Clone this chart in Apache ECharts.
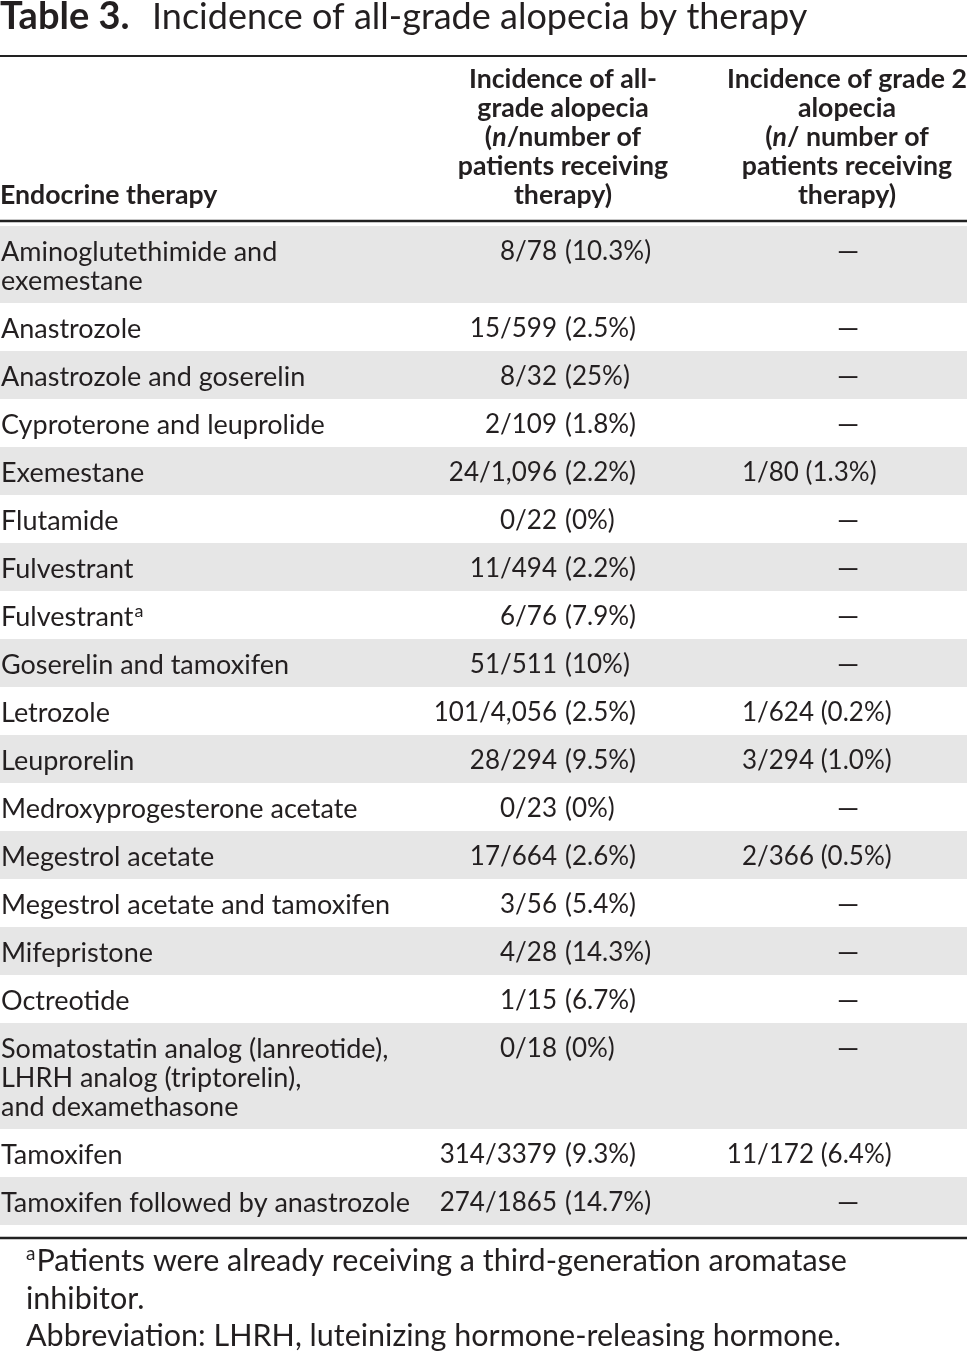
<!DOCTYPE html>
<html><head><meta charset="utf-8">
<script src="https://cdn.jsdelivr.net/npm/echarts@6/dist/echarts.min.js"></script>
<style>html,body{margin:0;padding:0;background:#fff}#c{width:967px;height:1353px}</style>
</head><body><div id="c"></div>
<script>
// ---- data ----
const therapies = [
  'Aminoglutethimide and\nexemestane',
  'Anastrozole',
  'Anastrozole and goserelin',
  'Cyproterone and leuprolide',
  'Exemestane',
  'Flutamide',
  'Fulvestrant',
  'Fulvestrant',
  'Goserelin and tamoxifen',
  'Letrozole',
  'Leuprorelin',
  'Medroxyprogesterone acetate',
  'Megestrol acetate',
  'Megestrol acetate and tamoxifen',
  'Mifepristone',
  'Octreotide',
  'Somatostatin analog (lanreotide),\nLHRH analog (triptorelin),\nand dexamethasone',
  'Tamoxifen',
  'Tamoxifen followed by anastrozole'
];
const noteMarks = ['', '', '', '', '', '', '', 'a', '', '', '', '', '', '', '', '', '', '', ''];
const allGradeN = ['8/78', '15/599', '8/32', '2/109', '24/1,096', '0/22', '11/494', '6/76', '51/511',
  '101/4,056', '28/294', '0/23', '17/664', '3/56', '4/28', '1/15', '0/18', '314/3379', '274/1865'];
const allGradePct = ['10.3%', '2.5%', '25%', '1.8%', '2.2%', '0%', '2.2%', '7.9%', '10%',
  '2.5%', '9.5%', '0%', '2.6%', '5.4%', '14.3%', '6.7%', '0%', '9.3%', '14.7%'];
const grade2N = ['', '', '', '', '1/80', '', '', '', '', '1/624', '3/294', '', '2/366', '', '', '', '', '11/172', ''];
const grade2Pct = ['', '', '', '', '1.3%', '', '', '', '', '0.2%', '1.0%', '', '0.5%', '', '', '', '', '6.4%', ''];
const titleLabel = 'Table 3.';
const titleText = 'Incidence of all-grade alopecia by therapy';
const headerCol1 = 'Endocrine therapy';
const headerCol2 = ['Incidence of all-', 'grade alopecia', '({i|n}/number of', 'patients receiving', 'therapy)'];
const headerCol3 = ['Incidence of grade 2', 'alopecia', '({i|n}/ number of', 'patients receiving', 'therapy)'];
const footnotes = ['{sup|a}Patients were already receiving a third-generation aromatase', 'inhibitor.',
  'Abbreviation: LHRH, luteinizing hormone-releasing hormone.'];
const emptyMark = '\u2014';

// ---- style / layout ----
const W = 967, H = 1353;
const FONT = 'Lato';
const INK = '#231f20';
const SHADE = '#e6e6e6';
const LABEL_FS = 27, NUM_FS = 26, HEAD_FS = 26.7, TITLE_FS = 36, TITLE_B_FS = 38, FOOT_FS = 30.5;
const LINE = 29, PITCH = 48, FIRST = 252;
const C2_SPLIT = 557, C3_SLASH = 757, C3_DASH = 848, PCT_GAP = 8;
const C2_HEAD = 563, C3_HEAD = 847;

const layout = [];
let y = FIRST;
therapies.forEach((t) => {
  const n = t.split('\n').length;
  layout.push({ first: y, last: y + (n - 1) * LINE });
  y += (n - 1) * LINE + PITCH;
});

const chart = echarts.init(document.getElementById('c'), null, { renderer: 'canvas' });

function txt(x, yy, text, opts) {
  return Object.assign({ type: 'text', x: x, y: yy,
    style: Object.assign({ text: text, fill: INK, fontFamily: FONT, fontSize: NUM_FS, align: 'left', verticalAlign: 'middle' }, opts || {}) });
}

function renderRow(params, api) {
  const i = params.dataIndex;
  const L = layout[i];
  const tl = api.coord([0, L.first - 26]);
  const br = api.coord([W, L.last + 22]);
  const p1 = api.coord([1, L.first]);
  const children = [];
  if (i % 2 === 0) {
    children.push({ type: 'rect', shape: { x: tl[0], y: tl[1], width: br[0] - tl[0], height: br[1] - tl[1] }, style: { fill: SHADE } });
  }
  const label = therapies[i] + (noteMarks[i] ? '{sup|' + noteMarks[i] + '}' : '');
  children.push({ type: 'text', x: p1[0], y: p1[1] - LINE / 2,
    style: { text: label, fill: INK, fontFamily: FONT, fontSize: LABEL_FS, lineHeight: LINE, align: 'left', verticalAlign: 'top',
      rich: { sup: { fontSize: 18, fontFamily: FONT, fill: INK, verticalAlign: 'top', lineHeight: LINE, padding: [0, 0, 12, 1] } } } });
  const c2 = api.coord([C2_SPLIT, L.first]);
  children.push(txt(c2[0], c2[1], allGradeN[i], { align: 'right' }));
  children.push(txt(c2[0] + PCT_GAP, c2[1], '(' + allGradePct[i] + ')', { align: 'left' }));
  if (grade2N[i]) {
    const parts = grade2N[i].split('/');
    const c3 = api.coord([C3_SLASH, L.first]);
    children.push(txt(c3[0], c3[1], parts[0], { align: 'right' }));
    children.push(txt(c3[0], c3[1], '/' + parts[1] + ' (' + grade2Pct[i] + ')', { align: 'left' }));
  } else {
    const c3 = api.coord([C3_DASH, L.first]);
    children.push(txt(c3[0], c3[1], emptyMark, { align: 'center', fontSize: 28 }));
  }
  return { type: 'group', children: children };
}

const headerLines = headerCol2.length;
const HEAD_LAST = 195;
const graphics = [];
graphics.push({ type: 'text', x: 0, y: 17,
  style: { text: titleLabel, fill: INK, fontFamily: FONT, fontSize: TITLE_B_FS, fontWeight: 'bold', align: 'left', verticalAlign: 'middle' } });
graphics.push({ type: 'text', x: 152, y: 17,
  style: { text: titleText, fill: INK, fontFamily: FONT, fontSize: TITLE_FS, align: 'left', verticalAlign: 'middle' } });
const hstyle = { fill: INK, fontFamily: FONT, fontSize: HEAD_FS, fontWeight: 'bold' };
graphics.push({ type: 'text', x: 0, y: HEAD_LAST, style: Object.assign({ text: headerCol1, align: 'left', verticalAlign: 'middle' }, hstyle) });
[[headerCol2, C2_HEAD], [headerCol3, C3_HEAD]].forEach(([lines, cx]) => {
  lines.forEach((ln, k) => {
    graphics.push({ type: 'text', x: cx, y: HEAD_LAST - (headerLines - 1 - k) * LINE,
      style: Object.assign({ text: ln, align: 'center', verticalAlign: 'middle',
        rich: { i: { fontStyle: 'italic', fontWeight: 'bold', fontSize: HEAD_FS, fontFamily: FONT, fill: INK } } }, hstyle) });
  });
});
const RULE_TOP = 56, RULE_HEAD = 221;
const lastRow = layout[layout.length - 1];
const RULE_BOTTOM = lastRow.last + 35;
[[RULE_TOP, 2], [RULE_HEAD, 2.5], [RULE_BOTTOM, 2.5]].forEach(([ry, w]) => {
  graphics.push({ type: 'line', shape: { x1: 0, y1: ry, x2: W, y2: ry }, style: { stroke: '#222', lineWidth: w } });
});
const FOOT = [1261, 1299, 1336];
footnotes.forEach((f, k) => {
  graphics.push({ type: 'text', x: 26, y: FOOT[k],
    style: { text: f, fill: INK, fontFamily: FONT, fontSize: FOOT_FS, align: 'left', verticalAlign: 'middle',
      rich: { sup: { fontSize: 19, fontFamily: FONT, fill: INK, padding: [0, 1, 14, 0] } } } });
});

chart.setOption({
  animation: false,
  backgroundColor: '#fff',
  grid: { left: 0, right: 0, top: 0, bottom: 0 },
  xAxis: { type: 'value', min: 0, max: W, show: false },
  yAxis: { type: 'value', min: 0, max: H, inverse: true, show: false },
  series: [{
    type: 'custom', renderItem: renderRow, silent: true,
    data: therapies.map((t, i) => [i]),
    encode: { x: 0, y: 0 }, clip: false, z: 1
  }],
  graphic: { elements: graphics }
});
</script>
</body></html>
